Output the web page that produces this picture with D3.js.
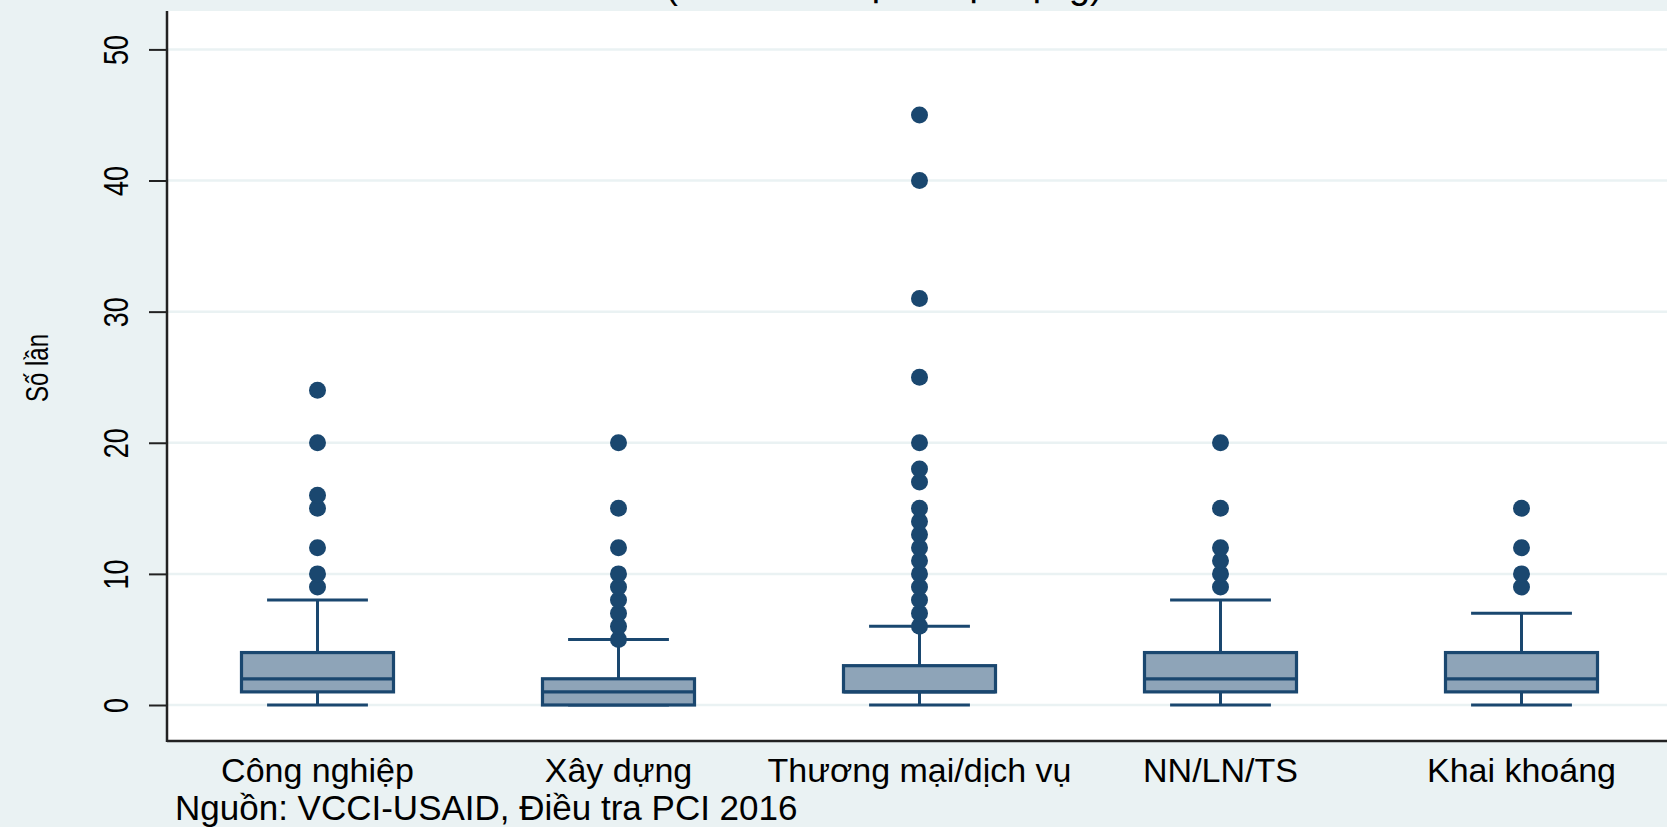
<!DOCTYPE html>
<html>
<head>
<meta charset="utf-8">
<script src="https://cdn.jsdelivr.net/npm/d3@7"></script>
<style>
  html, body { margin: 0; padding: 0; background: #eaf2f3; }
  svg { display: block; }
  text { font-family: "Liberation Sans", Arial, sans-serif; fill: #000; }
</style>
</head>
<body>
<script>
// ---- data ----
const categories = ["Công nghiệp", "Xây dựng", "Thương mại/dịch vụ", "NN/LN/TS", "Khai khoáng"];
const lowerWhisker = [0, 0, 0, 0, 0];
const q1 = [1, 0, 1, 1, 1];
const median = [2, 1, 1, 2, 2];
const q3 = [4, 2, 3, 4, 4];
const upperWhisker = [8, 5, 6, 8, 7];
const outliers = [
  [9, 10, 12, 15, 16, 20, 24],
  [5, 6, 7, 8, 9, 10, 12, 15, 20],
  [6, 7, 8, 9, 10, 11, 12, 13, 14, 15, 17, 18, 20, 25, 31, 40, 45],
  [9, 10, 11, 12, 15, 20],
  [9, 10, 12, 15]
];
const yTicks = [0, 10, 20, 30, 40, 50];
const titleText = "(Theo lĩnh vực hoạt động)";
const yTitle = "Số lần";
const sourceText = "Nguồn: VCCI-USAID, Điều tra PCI 2016";

// ---- layout ----
const W = 1667, H = 827;
const plotLeft = 167, plotRight = 1672, plotTop = 11, plotBottom = 741;
const navy = "#1a476f", boxFill = "#8ea4b8", bg = "#eaf2f3";

const svg = d3.select("body").append("svg").attr("width", W).attr("height", H);
svg.append("rect").attr("width", W).attr("height", H).attr("fill", bg);
svg.append("rect").attr("x", plotLeft).attr("y", plotTop)
  .attr("width", W - plotLeft).attr("height", plotBottom - plotTop).attr("fill", "#fff");

const x = d3.scaleBand().domain(categories).range([plotLeft, plotRight]).padding(0);
const y = d3.scaleLinear().domain([0, 50]).range([705, 49.4]);

// gridlines
svg.append("g").selectAll("line").data(yTicks).join("line")
  .attr("x1", plotLeft).attr("x2", W)
  .attr("y1", d => y(d)).attr("y2", d => y(d))
  .attr("stroke", bg).attr("stroke-width", 2.5);

// y axis
const yAxis = d3.axisLeft(y).tickValues(yTicks).tickSize(18).tickPadding(20).tickFormat(d3.format("d"));
const gy = svg.append("g").attr("transform", `translate(${plotLeft},0)`).call(yAxis);
gy.select(".domain").remove();
gy.selectAll(".tick line").attr("stroke", "#222").attr("stroke-width", 2);
gy.selectAll(".tick text")
  .attr("x", null).attr("dy", null)
  .attr("text-anchor", "middle")
  .attr("transform", "translate(-39,0) rotate(-90) scale(1,1.3)")
  .style("font-size", "27px").style("fill", "#000")
  .style("font-family", '"Liberation Sans", Arial, sans-serif');

// axis lines
svg.append("line").attr("x1", plotLeft).attr("x2", plotLeft).attr("y1", plotTop).attr("y2", plotBottom + 1)
  .attr("stroke", "#222").attr("stroke-width", 2.5);
svg.append("line").attr("x1", plotLeft).attr("x2", W).attr("y1", plotBottom).attr("y2", plotBottom)
  .attr("stroke", "#222").attr("stroke-width", 2.5);

// boxes
const bw = x.bandwidth();
const boxW = bw * 0.505, capW = bw * 0.335;
const g = svg.append("g");
categories.forEach((c, i) => {
  const cx = x(c) + bw / 2;
  const gg = g.append("g");
  // whiskers
  gg.append("line").attr("x1", cx).attr("x2", cx).attr("y1", y(q3[i])).attr("y2", y(upperWhisker[i]))
    .attr("stroke", navy).attr("stroke-width", 3);
  gg.append("line").attr("x1", cx).attr("x2", cx).attr("y1", y(q1[i])).attr("y2", y(lowerWhisker[i]))
    .attr("stroke", navy).attr("stroke-width", 3);
  gg.append("line").attr("x1", cx - capW / 2).attr("x2", cx + capW / 2)
    .attr("y1", y(upperWhisker[i])).attr("y2", y(upperWhisker[i])).attr("stroke", navy).attr("stroke-width", 3);
  gg.append("line").attr("x1", cx - capW / 2).attr("x2", cx + capW / 2)
    .attr("y1", y(lowerWhisker[i])).attr("y2", y(lowerWhisker[i])).attr("stroke", navy).attr("stroke-width", 3);
  // box
  gg.append("rect").attr("x", cx - boxW / 2).attr("width", boxW)
    .attr("y", y(q3[i])).attr("height", y(q1[i]) - y(q3[i]))
    .attr("fill", boxFill).attr("stroke", navy).attr("stroke-width", 3.2);
  gg.append("line").attr("x1", cx - boxW / 2).attr("x2", cx + boxW / 2)
    .attr("y1", y(median[i])).attr("y2", y(median[i])).attr("stroke", navy).attr("stroke-width", 3.2);
  // outliers
  gg.selectAll("circle").data(outliers[i]).join("circle")
    .attr("cx", cx).attr("cy", d => y(d)).attr("r", 8.5).attr("fill", navy);
});

// x labels
svg.append("g").selectAll("text").data(categories).join("text")
  .attr("x", d => x(d) + bw / 2).attr("y", 782)
  .attr("text-anchor", "middle").style("font-size", "34px").text(d => d);

// y title
svg.append("text").attr("transform", "translate(48,368) rotate(-90) scale(1,1.3)")
  .attr("text-anchor", "middle").style("font-size", "24px").text(yTitle);

// title (cut off at top, as in the reference)
svg.append("text").attr("x", 884).attr("y", -2).attr("text-anchor", "middle")
  .style("font-size", "38px").text(titleText);

// source
svg.append("text").attr("x", 175).attr("y", 820).style("font-size", "35px").text(sourceText);
</script>
</body>
</html>
